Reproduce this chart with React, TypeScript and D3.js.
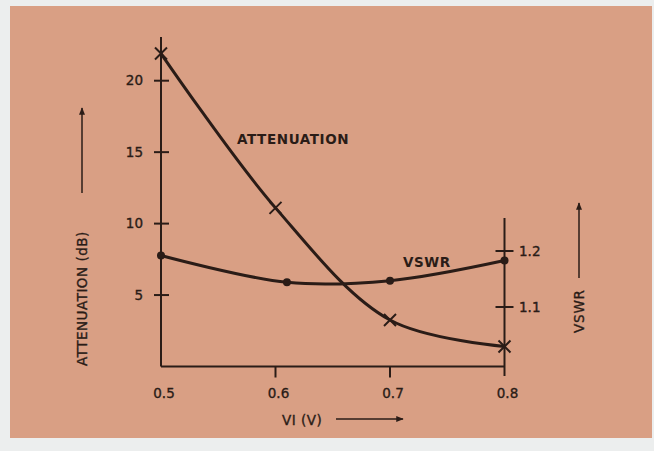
import React from "react";
import * as d3 from "d3";

const voltage = [0.5, 0.6, 0.7, 0.8];
const attenuation = [21.9, 11.1, 3.25, 1.4];
const vswrVoltage = [0.5, 0.61, 0.7, 0.8];
const vswr = [1.192, 1.144, 1.147, 1.183];
const xTicks = [0.5, 0.6, 0.7, 0.8];
const attTicks = [5, 10, 15, 20];
const vswrTicks = [1.1, 1.2];

const W = 654;
const H = 451;
const INK = "#2a1c17";
const BG = "#d99f84";
const FONT = "'DejaVu Sans', 'Liberation Sans', sans-serif";

export default function App() {
  const x = d3.scaleLinear().domain([0.5, 0.8]).range([161, 504.5]);
  const yA = d3.scaleLinear().domain([0, 20]).range([366.5, 80.7]);
  const yV = d3.scaleLinear().domain([1.1, 1.2]).range([307, 251]);

  const attPts: [number, number][] = voltage.map((v, i) => [x(v), yA(attenuation[i])]);
  const vswrPts: [number, number][] = vswrVoltage.map((v, i) => [x(v), yV(vswr[i])]);
  const line = d3.line().curve(d3.curveCatmullRom.alpha(0.5));

  const axisY = yA(0);
  const leftX = x(0.5);
  const rightX = x(0.8);

  return (
    <svg
      width={W}
      height={H}
      style={{ position: "fixed", left: 0, top: 0, display: "block" }}
      fontFamily={FONT}
    >
      <defs>
        <marker id="ah" viewBox="0 0 10 10" refX="9" refY="5" markerWidth="5" markerHeight="5" orient="auto">
          <path d="M0,1 L10,5 L0,9 Z" fill={INK} />
        </marker>
      </defs>
      <rect x={0} y={0} width={W} height={H} fill="#eceeee" />
      <rect x={10} y={6} width={642} height={432} fill={BG} />

      {/* axes */}
      <g stroke={INK} strokeWidth={2} fill="none">
        <line x1={leftX} y1={37} x2={leftX} y2={axisY} />
        <line x1={leftX} y1={axisY} x2={rightX} y2={axisY} />
        <line x1={rightX} y1={218} x2={rightX} y2={376} />
        {attTicks.map((t) => (
          <line key={"a" + t} x1={leftX - 7} x2={leftX + 8} y1={yA(t)} y2={yA(t)} />
        ))}
        {vswrTicks.map((t) => (
          <line key={"v" + t} x1={rightX - 9} x2={rightX + 9} y1={yV(t)} y2={yV(t)} />
        ))}
        {xTicks.slice(1, 3).map((t) => (
          <line key={"x" + t} x1={x(t)} x2={x(t)} y1={axisY} y2={axisY + 11} />
        ))}
      </g>

      {/* tick labels */}
      <g fill={INK} stroke={INK} strokeWidth={0.35} fontSize={13.5}>
        {attTicks.map((t) => (
          <text key={"al" + t} x={143} y={yA(t)} dy="0.35em" textAnchor="end">
            {t}
          </text>
        ))}
        {vswrTicks.map((t) => (
          <text key={"vl" + t} x={519} y={yV(t)} dy="0.35em" textAnchor="start">
            {t.toFixed(1)}
          </text>
        ))}
        {xTicks.map((t) => (
          <text key={"xl" + t} x={x(t) + 3} y={398} textAnchor="middle">
            {t.toFixed(1)}
          </text>
        ))}
      </g>

      {/* curves */}
      <path d={line(attPts) || ""} fill="none" stroke={INK} strokeWidth={3} />
      <path d={line(vswrPts) || ""} fill="none" stroke={INK} strokeWidth={3} />
      {attPts.map(([px, py], i) => (
        <g key={"m" + i} stroke={INK} strokeWidth={2}>
          <line x1={px - 6} y1={py - 6} x2={px + 6} y2={py + 6} />
          <line x1={px - 6} y1={py + 6} x2={px + 6} y2={py - 6} />
        </g>
      ))}
      {vswrPts.map(([px, py], i) => (
        <circle key={"c" + i} cx={px} cy={py} r={4} fill={INK} />
      ))}

      {/* series labels */}
      <g fill={INK} fontSize={13.5} fontWeight="bold">
        <text x={237} y={144} letterSpacing={0.6}>ATTENUATION</text>
        <text x={403} y={267} letterSpacing={0.6}>VSWR</text>
      </g>

      {/* axis titles */}
      <g fill={INK} stroke={INK} strokeWidth={0.35} fontSize={13.5}>
        <text transform="translate(87,366) rotate(-90)" letterSpacing={0.5}>ATTENUATION (dB)</text>
        <text transform="translate(584,333) rotate(-90)" letterSpacing={0.8}>VSWR</text>
        <text x={282} y={425} letterSpacing={0.5}>VI (V)</text>
      </g>
      <g stroke={INK} strokeWidth={1.5}>
        <line x1={82} y1={193} x2={82} y2={108} markerEnd="url(#ah)" />
        <line x1={579} y1={278} x2={579} y2={203} markerEnd="url(#ah)" />
        <line x1={336} y1={419} x2={403} y2={419} markerEnd="url(#ah)" />
      </g>
    </svg>
  );
}
